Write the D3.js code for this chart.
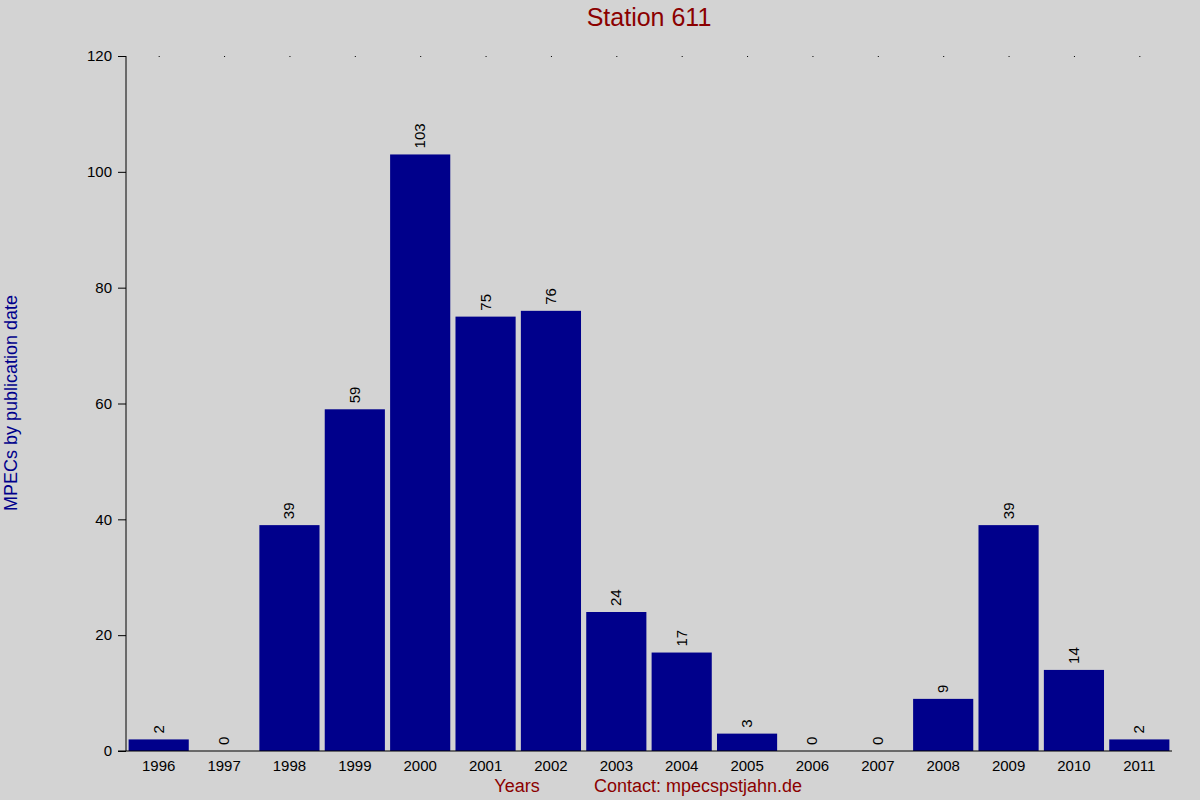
<!DOCTYPE html>
<html><head><meta charset="utf-8">
<script src="https://cdn.jsdelivr.net/npm/d3@7"></script>
<style>body{margin:0;background:#d3d3d3}svg{display:block;font-family:"Liberation Sans",Arial,sans-serif}</style>
</head><body>
<svg id="c" width="1200" height="800"></svg>
<script>
const years = ["1996","1997","1998","1999","2000","2001","2002","2003","2004","2005","2006","2007","2008","2009","2010","2011"];
const counts = [2,0,39,59,103,75,76,24,17,3,0,0,9,39,14,2];
const yTicks = [0,20,40,60,80,100,120];

const svg = d3.select("#c");
svg.append("rect").attr("width",1200).attr("height",800).attr("fill","#d3d3d3");
const L=126,R=1172,T=56,B=751;
const x = d3.scaleBand().domain(years).range([L,R]).paddingInner(0.08).paddingOuter(0.04);
const y = d3.scaleLinear().domain([0,120]).range([B,T]);

svg.append("text").attr("x",649).attr("y",26).attr("text-anchor","middle")
  .attr("font-size",25).attr("fill","#8b0000").text("Station 611");

svg.selectAll("rect.bar").data(counts).join("rect").attr("class","bar")
  .attr("x",(d,i)=>x(years[i])).attr("width",x.bandwidth())
  .attr("y",d=>y(d)).attr("height",d=>B-y(d)).attr("fill","#00008b");

svg.selectAll("text.val").data(counts).join("text").attr("class","val")
  .attr("transform",(d,i)=>`translate(${x(years[i])+x.bandwidth()/2+5},${y(d)-6}) rotate(-90)`)
  .attr("font-size",15).attr("fill","#000").text(d=>d);

// top dots
svg.selectAll("rect.dot").data(years).join("rect").attr("class","dot")
  .attr("x",d=>x(d)+x.bandwidth()/2).attr("y",T).attr("width",1).attr("height",1).attr("fill","#000");

const ya = svg.append("g").attr("transform",`translate(${L},0)`)
  .call(d3.axisLeft(y).tickValues(yTicks).tickSize(8).tickPadding(6));
ya.select(".domain").remove();
ya.selectAll("text").attr("font-size",15).attr("fill","#000").attr("font-family","Liberation Sans, Arial");
svg.append("line").attr("x1",L).attr("x2",L).attr("y1",T).attr("y2",B).attr("stroke","#000");
svg.append("line").attr("x1",L-8).attr("x2",R).attr("y1",B).attr("y2",B).attr("stroke","#000");

svg.selectAll("text.yr").data(years).join("text").attr("class","yr")
  .attr("x",d=>x(d)+x.bandwidth()/2).attr("y",771).attr("text-anchor","middle")
  .attr("font-size",15).attr("fill","#000").text(d=>d);

svg.append("text").attr("x",517).attr("y",792).attr("text-anchor","middle")
  .attr("font-size",18).attr("fill","#8b0000").text("Years");
svg.append("text").attr("x",698).attr("y",792).attr("text-anchor","middle")
  .attr("font-size",18).attr("fill","#8b0000").text("Contact: mpecspstjahn.de");
svg.append("text").attr("transform","translate(17,403) rotate(-90)").attr("text-anchor","middle")
  .attr("font-size",18).attr("fill","#00008b").text("MPECs by publication date");
</script></body></html>
